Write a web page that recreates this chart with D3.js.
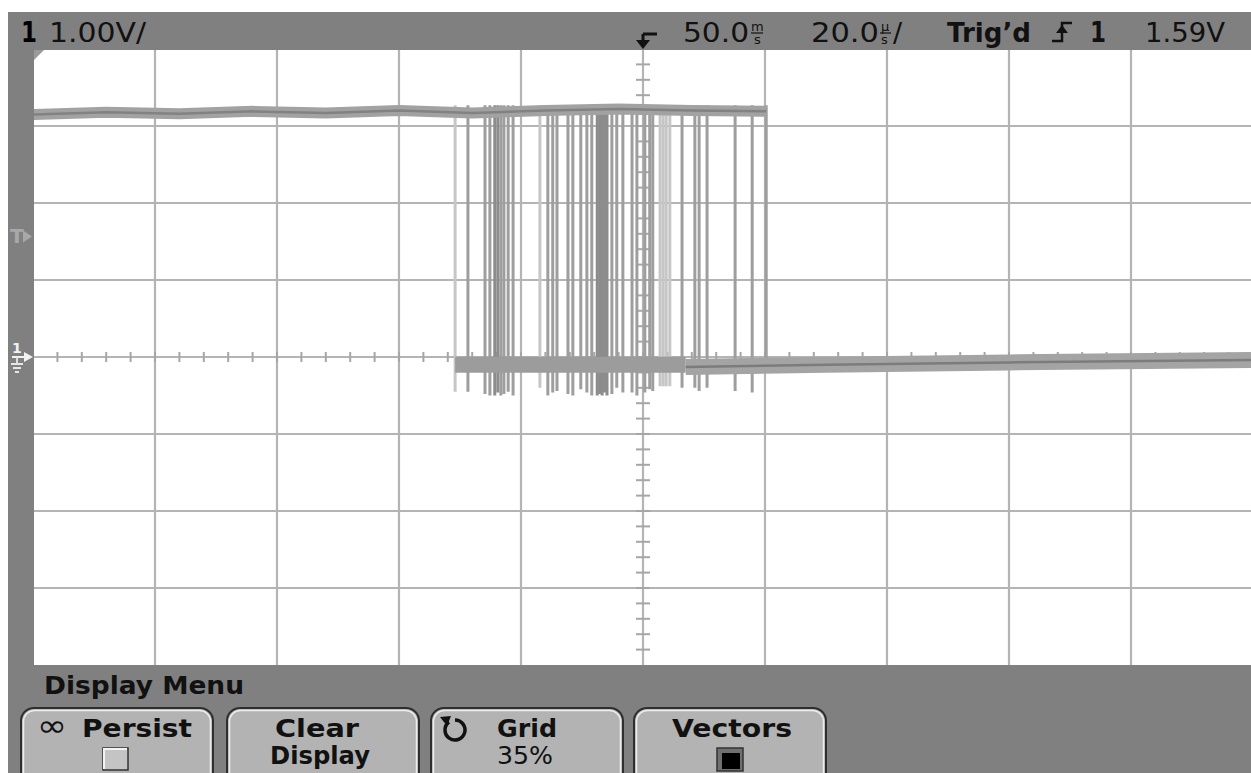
<!DOCTYPE html>
<html>
<head>
<meta charset="utf-8">
<script src="https://cdn.jsdelivr.net/npm/d3@7"></script>
<style>
  body { margin: 0; background: #fff; }
  svg { display: block; }
  text { font-family: "DejaVu Sans", sans-serif; }
</style>
</head>
<body>
<svg id="scope" width="1251" height="773"></svg>
<script>
// screen settings: 20 us/div over 10 divs, 1 V/div over 8 divs
const timeDomain = [-100, 100];
const voltDomain = [-4, 4];
const trigLevel = 1.59;

// falling edges caught by the persistence display (us)
const edgeTimes = [-30.8, -28.7, -25.9, -25.1, -24.3, -23.8, -23.3, -22.8, -22.1, -21.3,
  -16.9, -15.6, -14.8, -14.1, -12.3, -11.5, -10.2, -9.2, -8.4,
  -7.5, -7.1, -6.7, -6.3, -5.9, -5.1, -4.3, -3.3, -1.8, -1.0,
  0.3, 1.1, 1.6, 2.8, 3.3, 3.8, 4.4, 6.4, 8.5, 9.2, 10.5, 15.1, 17.9, 20.2];
// 0 = faint, 1 = normal, 2 = bright
const edgeShade = [0, 1, 1, 1, 2, 2, 1, 1, 1, 1,
  0, 1, 1, 1, 1, 1, 1, 1, 1,
  2, 2, 2, 2, 2, 1, 1, 1, 1, 1,
  1, 1, 1, 0, 0, 0, 0, 1, 1, 1, 1, 1, 1, 1];
// undershoot reached after each edge (V)
const edgeDip = [-0.45, -0.45, -0.48, -0.5, -0.5, -0.46, -0.5, -0.48, -0.45, -0.5,
  -0.4, -0.5, -0.46, -0.44, -0.48, -0.5, -0.42, -0.46, -0.5,
  -0.5, -0.48, -0.5, -0.46, -0.5, -0.48, -0.4, -0.46, -0.46, -0.5,
  -0.46, -0.42, -0.44, -0.38, -0.38, -0.38, -0.38, -0.4, -0.4, -0.44, -0.4, -0.44, -0.46, -0.2];

// high level trace (us, V)
const highTrace = [[-100, 3.15], [-88, 3.18], [-76, 3.16], [-64, 3.19], [-52, 3.17],
  [-40, 3.2], [-28, 3.17], [-16, 3.2], [-4, 3.22], [8, 3.2], [20.2, 3.19]];
// low level traces (us, V)
const lowBurst = [[-30.8, -0.1], [7, -0.1]];
const lowSettled = [[7, -0.13], [30, -0.1], [60, -0.07], [100, -0.04]];

// header and softkey texts
const headerTexts = ["1", "1.00V/", "50.0", "20.0", "Trig\u2019d", "1", "1.59V"];
const menuTitle = "Display Menu";
const keyTop = ["Persist", "Clear", "Grid", "Vectors"];
const keyBottom = ["", "Display", "35%", ""];

const svg = d3.select("#scope");
const x = d3.scaleLinear().domain(timeDomain).range([33, 1253]);
const y = d3.scaleLinear().domain(voltDomain).range([665, 49]);

svg.append("rect").attr("width", 1251).attr("height", 773).attr("fill", "#fff");

svg.append("clipPath").attr("id", "plotclip")
  .append("rect").attr("x", 34).attr("y", 50).attr("width", 1217).attr("height", 615);

const plot = svg.append("g").attr("clip-path", "url(#plotclip)");

// graticule
plot.selectAll(".vg").data(d3.range(-80, 100, 20)).enter().append("line")
  .attr("x1", d => x(d)).attr("x2", d => x(d))
  .attr("y1", y(4)).attr("y2", y(-4))
  .attr("stroke", "#b4b4b4").attr("stroke-width", 2.2);
plot.selectAll(".hg").data(d3.range(-3, 4, 1)).enter().append("line")
  .attr("x1", x(-100)).attr("x2", x(100))
  .attr("y1", d => y(d)).attr("y2", d => y(d))
  .attr("stroke", "#b4b4b4").attr("stroke-width", 2.2);

// minor ticks on the centre axes
plot.selectAll(".ht").data(d3.range(-96, 100, 4)).enter().append("line")
  .attr("x1", d => x(d)).attr("x2", d => x(d))
  .attr("y1", y(0) - 5).attr("y2", y(0) + 5)
  .attr("stroke", "#a6a6a6").attr("stroke-width", 2);
plot.selectAll(".vt").data(d3.range(-3.8, 4, 0.2)).enter().append("line")
  .attr("x1", x(0) - 7).attr("x2", x(0) + 7)
  .attr("y1", d => y(d)).attr("y2", d => y(d))
  .attr("stroke", "#a6a6a6").attr("stroke-width", 2);

const line = d3.line().x(d => x(d[0])).y(d => y(d[1]));
const shadeColor = ["#c6c6c6", "#9e9e9e", "#8c8c8c"];

// edges
plot.selectAll(".edge").data(edgeTimes).enter().append("line")
  .attr("x1", d => x(d)).attr("x2", d => x(d))
  .attr("y1", y(3.27)).attr("y2", (d, i) => y(edgeDip[i]))
  .attr("stroke", (d, i) => shadeColor[edgeShade[i]])
  .attr("stroke-width", 3);

// high band
plot.append("path").datum(highTrace).attr("d", line)
  .attr("fill", "none").attr("stroke", "#a2a2a2").attr("stroke-width", 11);
plot.append("path").datum(highTrace).attr("d", line)
  .attr("fill", "none").attr("stroke", "#828282").attr("stroke-width", 2.5);

// low bands
plot.append("path").datum(lowBurst).attr("d", line)
  .attr("fill", "none").attr("stroke", "#9c9c9c").attr("stroke-width", 16);
plot.append("path").datum(lowSettled).attr("d", line)
  .attr("fill", "none").attr("stroke", "#a4a4a4").attr("stroke-width", 16);
plot.append("path").datum(lowSettled).attr("d", line)
  .attr("fill", "none").attr("stroke", "#7c7c7c").attr("stroke-width", 2.5);

// frame
const frame = "#808080";
svg.append("rect").attr("x", 8).attr("y", 12).attr("width", 1243).attr("height", 38).attr("fill", frame);
svg.append("rect").attr("x", 8).attr("y", 12).attr("width", 26).attr("height", 653).attr("fill", frame);
svg.append("rect").attr("x", 8).attr("y", 665).attr("width", 1243).attr("height", 108).attr("fill", frame);
svg.append("path").attr("d", "M34,50 L44,50 L34,60 Z").attr("fill", "#9a9a9a");

// left-hand markers
const ty = y(trigLevel);
svg.append("text").attr("x", 10).attr("y", ty + 8).attr("font-size", 20).attr("font-weight", "bold")
  .attr("fill", "#a8a8a8").text("T");
svg.append("path").attr("d", `M23,${ty - 4} L32,${ty + 2} L23,${ty + 8} Z`).attr("fill", "#a8a8a8");
const gy = y(0);
svg.append("text").attr("x", 12).attr("y", gy - 4).attr("font-size", 14).attr("font-weight", "bold")
  .attr("fill", "#f2f2f2").text("1");
svg.append("path").attr("d", `M12,${gy - 1} L24,${gy - 1} L24,${gy - 5} L33,${gy} L24,${gy + 5} L24,${gy + 1} L12,${gy + 1} Z`)
  .attr("fill", "#f2f2f2");
svg.append("path").attr("d", `M17,${gy} L17,${gy + 6} M11,${gy + 7} L23,${gy + 7} M13,${gy + 11} L21,${gy + 11} M15,${gy + 15} L19,${gy + 15}`)
  .attr("stroke", "#e6e6e6").attr("stroke-width", 1.8);

// header
const hb = 42;
svg.append("text").attr("x", 21).attr("y", hb).attr("font-size", 28).attr("font-weight", "bold")
  .attr("textLength", 16).attr("lengthAdjust", "spacingAndGlyphs").text(headerTexts[0]);
svg.append("text").attr("x", 49).attr("y", hb).attr("font-size", 27)
  .attr("textLength", 97).attr("lengthAdjust", "spacingAndGlyphs").attr("fill", "#111").text(headerTexts[1]);

// delay marker
svg.append("path").attr("d", `M${x(0)},${34} L${x(0) + 14},${34} M${x(0)},${34} L${x(0)},${42}`)
  .attr("stroke", "#111").attr("stroke-width", 3).attr("fill", "none");
svg.append("path").attr("d", `M${x(0) - 7},${40} L${x(0) + 7},${40} L${x(0)},${49} Z`).attr("fill", "#111");

svg.append("text").attr("x", 683).attr("y", hb).attr("font-size", 27)
  .attr("textLength", 66).attr("lengthAdjust", "spacingAndGlyphs").attr("fill", "#111").text(headerTexts[2]);
svg.append("text").attr("x", 751).attr("y", 31).attr("font-size", 13).attr("fill", "#111").text("m");
svg.append("text").attr("x", 754).attr("y", 44).attr("font-size", 13).attr("fill", "#111").text("s");
svg.append("line").attr("x1", 751).attr("x2", 763).attr("y1", 33).attr("y2", 33).attr("stroke", "#111").attr("stroke-width", 1.2);

svg.append("text").attr("x", 811).attr("y", hb).attr("font-size", 27)
  .attr("textLength", 68).attr("lengthAdjust", "spacingAndGlyphs").attr("fill", "#111").text(headerTexts[3]);
svg.append("text").attr("x", 881).attr("y", 31).attr("font-size", 13).attr("fill", "#111").text("\u00b5");
svg.append("text").attr("x", 881).attr("y", 44).attr("font-size", 13).attr("fill", "#111").text("s");
svg.append("line").attr("x1", 880).attr("x2", 891).attr("y1", 33).attr("y2", 33).attr("stroke", "#111").attr("stroke-width", 1.2);
svg.append("text").attr("x", 893).attr("y", hb).attr("font-size", 27).attr("fill", "#111").text("/");

svg.append("text").attr("x", 947).attr("y", hb).attr("font-size", 26).attr("font-weight", "bold")
  .attr("textLength", 84).attr("lengthAdjust", "spacingAndGlyphs").attr("fill", "#111").text(headerTexts[4]);
// edge symbol
svg.append("path").attr("d", "M1052,41 L1062,41 L1062,23 L1072,23")
  .attr("stroke", "#111").attr("stroke-width", 2.5).attr("fill", "none");
svg.append("path").attr("d", "M1056,33 L1068,33 L1062,25 Z").attr("fill", "#111");
svg.append("text").attr("x", 1090).attr("y", hb).attr("font-size", 28).attr("font-weight", "bold")
  .attr("textLength", 16).attr("lengthAdjust", "spacingAndGlyphs").attr("fill", "#111").text(headerTexts[5]);
svg.append("text").attr("x", 1145).attr("y", hb).attr("font-size", 27)
  .attr("textLength", 80).attr("lengthAdjust", "spacingAndGlyphs").attr("fill", "#111").text(headerTexts[6]);

// menu
svg.append("text").attr("x", 44).attr("y", 694).attr("font-size", 24).attr("font-weight", "bold")
  .attr("textLength", 200).attr("lengthAdjust", "spacingAndGlyphs").attr("fill", "#111").text(menuTitle);

const keyLeft = [21, 227, 431, 634];
const keyW = 192;
const keys = svg.selectAll(".key").data(keyTop).enter().append("g")
  .attr("transform", (d, i) => `translate(${keyLeft[i]},708)`);
keys.append("rect").attr("x", 0).attr("y", 0).attr("width", keyW).attr("height", 90).attr("rx", 13)
  .attr("fill", "#b3b3b3").attr("stroke", "#2e2e2e").attr("stroke-width", 2);
keys.append("rect").attr("x", 2.5).attr("y", 2.5).attr("width", keyW - 5).attr("height", 90).attr("rx", 11)
  .attr("fill", "none").attr("stroke", "#ececec").attr("stroke-width", 1.5);

const topCx = [116, 90, 96, 98];
keys.append("text").attr("x", (d, i) => topCx[i]).attr("y", 29).attr("text-anchor", "middle")
  .attr("font-size", 25).attr("font-weight", "bold").attr("fill", "#111")
  .attr("textLength", (d, i) => [110, 84, 60, 120][i]).attr("lengthAdjust", "spacingAndGlyphs")
  .text(d => d);
keys.append("text").attr("x", (d, i) => [96, 93, 94, 96][i]).attr("y", 56).attr("text-anchor", "middle")
  .attr("font-size", (d, i) => i === 2 ? 24 : 25)
  .attr("font-weight", (d, i) => i === 2 ? "normal" : "bold").attr("fill", "#111")
  .attr("textLength", (d, i) => [0, 100, 56, 0][i] || null).attr("lengthAdjust", "spacingAndGlyphs")
  .text((d, i) => keyBottom[i]);

// persist: infinity sign and empty box
const k0 = keys.filter((d, i) => i === 0);
k0.append("text").attr("x", 16).attr("y", 28).attr("font-size", 30).attr("fill", "#111")
  .attr("textLength", 30).attr("lengthAdjust", "spacingAndGlyphs").text("\u221e");
k0.append("rect").attr("x", 82).attr("y", 40).attr("width", 25).attr("height", 22).attr("fill", "#c4c4c4")
  .attr("stroke", "#333").attr("stroke-width", 1.5);
k0.append("path").attr("d", "M83,61 L83,41 L106,41").attr("stroke", "#f4f4f4").attr("stroke-width", 2).attr("fill", "none");

// grid: rotate arrow
const k2 = keys.filter((d, i) => i === 2);
k2.append("path").attr("d", "M18,14 A10,10 0 1 0 24,12").attr("stroke", "#111").attr("stroke-width", 3.5).attr("fill", "none");
k2.append("path").attr("d", "M9,9 L20,8 L16,18 Z").attr("fill", "#111");

// vectors: filled box
const k3 = keys.filter((d, i) => i === 3);
k3.append("rect").attr("x", 83).attr("y", 40).attr("width", 26).attr("height", 23).attr("fill", "#707070")
  .attr("stroke", "#333").attr("stroke-width", 1.5);
k3.append("rect").attr("x", 88).attr("y", 45).attr("width", 18).attr("height", 16).attr("fill", "#000");
</script>
</body>
</html>
